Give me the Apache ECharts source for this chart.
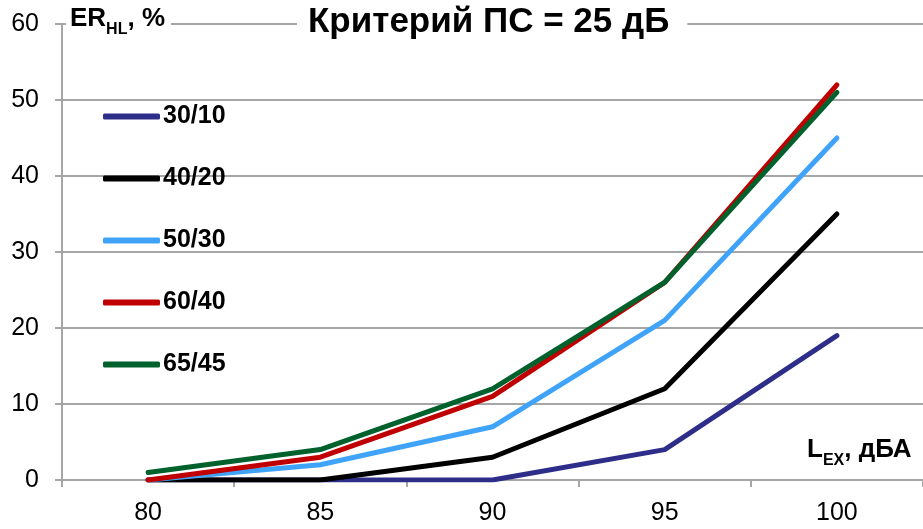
<!DOCTYPE html>
<html>
<head>
<meta charset="utf-8">
<script src="https://cdn.jsdelivr.net/npm/echarts@6/dist/echarts.min.js"></script>
<style>
    html, body { margin: 0; padding: 0; background: #fff; }
    #chart { width: 923px; height: 529px; }
</style>
</head>
<body>
<div id="chart"></div>
<script>
const categories = ['80', '85', '90', '95', '100']
const seriesNames = ['30/10', '40/20', '50/30', '60/40', '65/45']
const s30_10 = [0, 0, 0, 4, 19]
const s40_20 = [0, 0, 3, 12, 35]
const s50_30 = [0, 2, 7, 21, 45]
const s60_40 = [0, 3, 11, 26, 52]
const s65_45 = [1, 4, 12, 26, 51]
const colors = ['#2e2e8a', '#000000', '#3fa3fa', '#c00000', '#00612d']

const font = 'Liberation Sans, Arial, sans-serif'
const gridColor = '#a6a6a6'

function makeSeries(name, data, color) {
    return {
        name: name,
        type: 'line',
        data: data,
        symbol: 'none',
        color: color,
        lineStyle: {
            width: 5,
            color: color,
            cap: 'round',
            join: 'round'
        }
    }
}

let dom = document.getElementById('chart')
let myChart = echarts.init(dom, null, { renderer: 'canvas' })

let allData = [s30_10, s40_20, s50_30, s60_40, s65_45]
let series = []
for (let i = 0; i < seriesNames.length; i++) {
    series.push(makeSeries(seriesNames[i], allData[i], colors[i]))
}

option = {
    animation: false,
    backgroundColor: '#fff',
    grid: {
        left: 62,
        right: 0,
        top: 24,
        bottom: 49
    },
    title: {
        text: 'Критерий ПС = 25 дБ',
        left: 297,
        top: 3,
        backgroundColor: '#fff',
        padding: [2, 18, 4, 11],
        textStyle: {
            fontFamily: font,
            fontSize: 35,
            fontWeight: 'bold',
            color: '#000'
        }
    },
    legend: {
        orient: 'vertical',
        left: 103,
        top: 104,
        padding: 0,
        icon: 'roundRect',
        itemWidth: 57,
        itemHeight: 6,
        itemGap: 37,
        textStyle: {
            fontFamily: font,
            fontSize: 25,
            fontWeight: 'bold',
            color: '#000',
            lineHeight: 25,
            padding: [0, 0, 0, -2]
        },
        data: seriesNames
    },
    xAxis: {
        type: 'category',
        data: categories,
        boundaryGap: true,
        axisLine: { lineStyle: { color: gridColor, width: 2 } },
        axisTick: { show: true, length: 7, lineStyle: { color: gridColor, width: 2 } },
        axisLabel: {
            margin: 21,
            fontFamily: font,
            fontSize: 25,
            color: '#000'
        }
    },
    yAxis: {
        type: 'value',
        min: 0,
        max: 60,
        interval: 10,
        axisLine: { show: true, lineStyle: { color: gridColor, width: 2 } },
        axisTick: { show: true, length: 7, lineStyle: { color: gridColor, width: 2 } },
        splitLine: { lineStyle: { color: gridColor, width: 2 } },
        axisLabel: {
            margin: 23,
            fontFamily: font,
            fontSize: 25,
            color: '#000'
        }
    },
    graphic: [
        {
            type: 'text',
            left: 66,
            top: 0,
            z: 100,
            style: {
                text: '{b|ER}{s|HL}{b|, %}',
                backgroundColor: '#fff',
                padding: [2, 6, 2, 4],
                rich: {
                    b: { fontFamily: font, fontSize: 26, fontWeight: 'bold', fill: '#000', verticalAlign: 'bottom', lineHeight: 30 },
                    s: { fontFamily: font, fontSize: 16, fontWeight: 'bold', fill: '#000', verticalAlign: 'bottom', lineHeight: 22, padding: [0, 0, -6, 0] }
                }
            }
        },
        {
            type: 'text',
            left: 807,
            top: 437,
            z: 100,
            style: {
                text: '{b|L}{s|EX}{b|, дБА}',
                rich: {
                    b: { fontFamily: font, fontSize: 26, fontWeight: 'bold', fill: '#000', verticalAlign: 'bottom', lineHeight: 30 },
                    s: { fontFamily: font, fontSize: 16, fontWeight: 'bold', fill: '#000', verticalAlign: 'bottom', lineHeight: 22, padding: [0, 0, -6, 0] }
                }
            }
        }
    ],
    series: series
}

if (option && typeof option === 'object') {
    myChart.setOption(option)
}
window.addEventListener('resize', myChart.resize)
</script>
</body>
</html>
